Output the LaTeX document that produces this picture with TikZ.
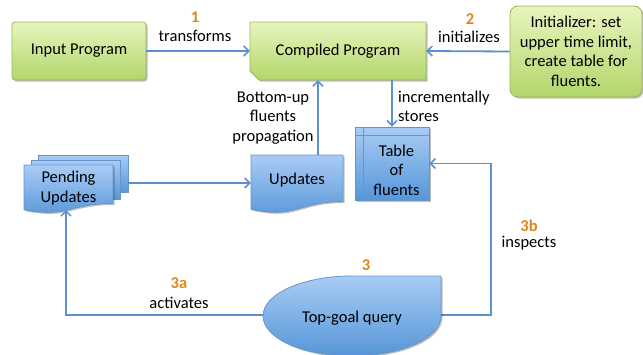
\documentclass[tikz,border=0pt]{standalone}
\usepackage{fontspec}
\setmainfont{Carlito}
\usetikzlibrary{arrows.meta,calc,shadows}
\definecolor{gtop}{HTML}{E8F5BE}
\definecolor{gbot}{HTML}{B2D66A}
\definecolor{gborder}{HTML}{98B954}
\definecolor{btop}{HTML}{A9CCF5}
\definecolor{bbot}{HTML}{5696D8}
\definecolor{bborder}{HTML}{4F81BD}
\definecolor{lnc}{HTML}{5B8FCE}
\definecolor{org}{HTML}{E0861A}
\begin{document}
\begin{tikzpicture}[x=1pt,y=-1pt,
 font=\fontsize{16.5}{19.5}\selectfont,
 greenbox/.style={draw=gborder, line width=0.8pt, top color=gtop, bottom color=gbot},
 bluebox/.style={draw=bborder!85, line width=0.8pt, top color=btop, bottom color=bbot},
 arr/.style={draw=lnc, line width=1.8pt, -{Straight Barb[length=5pt,width=10pt,line width=1.5pt]}},
 num/.style={text=org, font=\fontsize{16.5}{19.5}\selectfont\bfseries},
 lbl/.style={inner sep=0pt, align=center},
 shad/.style={drop shadow={shadow xshift=1.5pt,shadow yshift=-1.5pt,opacity=0.25,fill=black}},
]
\useasboundingbox (0,0) rectangle (643,354);

% connectors from the query (drawn first, behind shapes)
\coordinate (tgqL) at (263,315);
\coordinate (tgqR) at (441,315);
\coordinate (pendB) at (66,210);
\coordinate (pendR) at (128,183);
\coordinate (corner) at (491,163.5);

% Input program
\node[greenbox, shad, rounded corners=3pt, minimum width=134pt, minimum height=58pt] (ip) at (79,51) {Input Program};

% Compiled program (snipped corner)
\path[greenbox,shad] (250,22) -- (426,22) -- (426,80) -- (259,80) -- (250,71) -- cycle;
\node[minimum width=176pt, minimum height=58pt] (cp) at (338,51) {Compiled Program};

% Initializer
\node[greenbox, shad, rounded corners=8pt, minimum width=132pt, minimum height=91pt, align=center, inner sep=0pt] (init) at (576,51.5) {Initializer: set\\upper time limit,\\create table for\\fluents.};

% Table of fluents
\node[bluebox, shad, minimum width=74pt, minimum height=73pt] (tab) at (392,163.5) {};
\draw[bborder!85, line width=0.8pt] ([yshift=-9pt]tab.north west) -- ([yshift=-9pt]tab.north east)
  ([xshift=9pt]tab.north west) -- ([xshift=9pt]tab.south west);
\node[lbl] (tabtxt) at (396.5,170) {Table\\of\\fluents};

% Updates document
\path[bluebox,shad] (251,155) -- (343,155) -- (343,201.5) .. controls (297,201.5) and (297,219.2) .. (251,209.2) -- cycle;
\node[minimum width=92pt, minimum height=50pt] (upd) at (297,180) {Updates};

% Pending updates (multi-document)
\path[bluebox] (38,155) rectangle (128,192);
\path[bluebox] (31,160) rectangle (120,199);
\path[bluebox,shad] (24,165) -- (113,165) -- (113,203.5) .. controls (68.5,203.5) and (68.5,218.1) .. (24,209.8) -- cycle;
\node[lbl] (pend) at (68.5,188) {Pending\\Updates};

% query connectors
\draw[arr] (tgqL) -| (pendB);
\draw[arr] (tgqR) -| (corner) -- (tab.east);

% Top-goal query (teardrop)
\path[bluebox,shad] (352,276) -- (441,276) -- (441,316) .. controls (441,338.1) and (401.2,356) .. (352,356) .. controls (302.8,356) and (263,338.1) .. (263,316) .. controls (263,293.9) and (302.8,276) .. (352,276) -- cycle;
\node (tgq) at (352,318) {Top-goal query};

% arrows
\draw[arr] (ip.east) -- (cp.west);
\draw[arr] (init.west) -- (cp.east);
\draw[arr] (tab.north |- cp.south) -- (tab.north);
\draw[arr] ([xshift=21pt]upd.north) -- ([xshift=21pt]upd.north |- cp.south);
\draw[arr] (pendR) -- (upd.west |- pendR);

% labels
\node[num] (n1) at (195,17) {1};
\node (t1) at (195,36) {transforms};
\node[num] (n2) at (470,19) {2};
\node (t2) at (469,37) {initializes};
\node[lbl, align=left, anchor=west] (t3) at (398,106.5) {incrementally\\stores};
\node[lbl] (t4) at (273,118) {Bottom-up\\fluents\\propagation};
\node[num] (n3) at (366,265) {3};
\node[num] (n3a) at (179,283) {3a};
\node (t3a) at (179,303) {activates};
\node[num] (n3b) at (529,226) {3b};
\node (t3b) at (529,243) {inspects};
\end{tikzpicture}
\end{document}
